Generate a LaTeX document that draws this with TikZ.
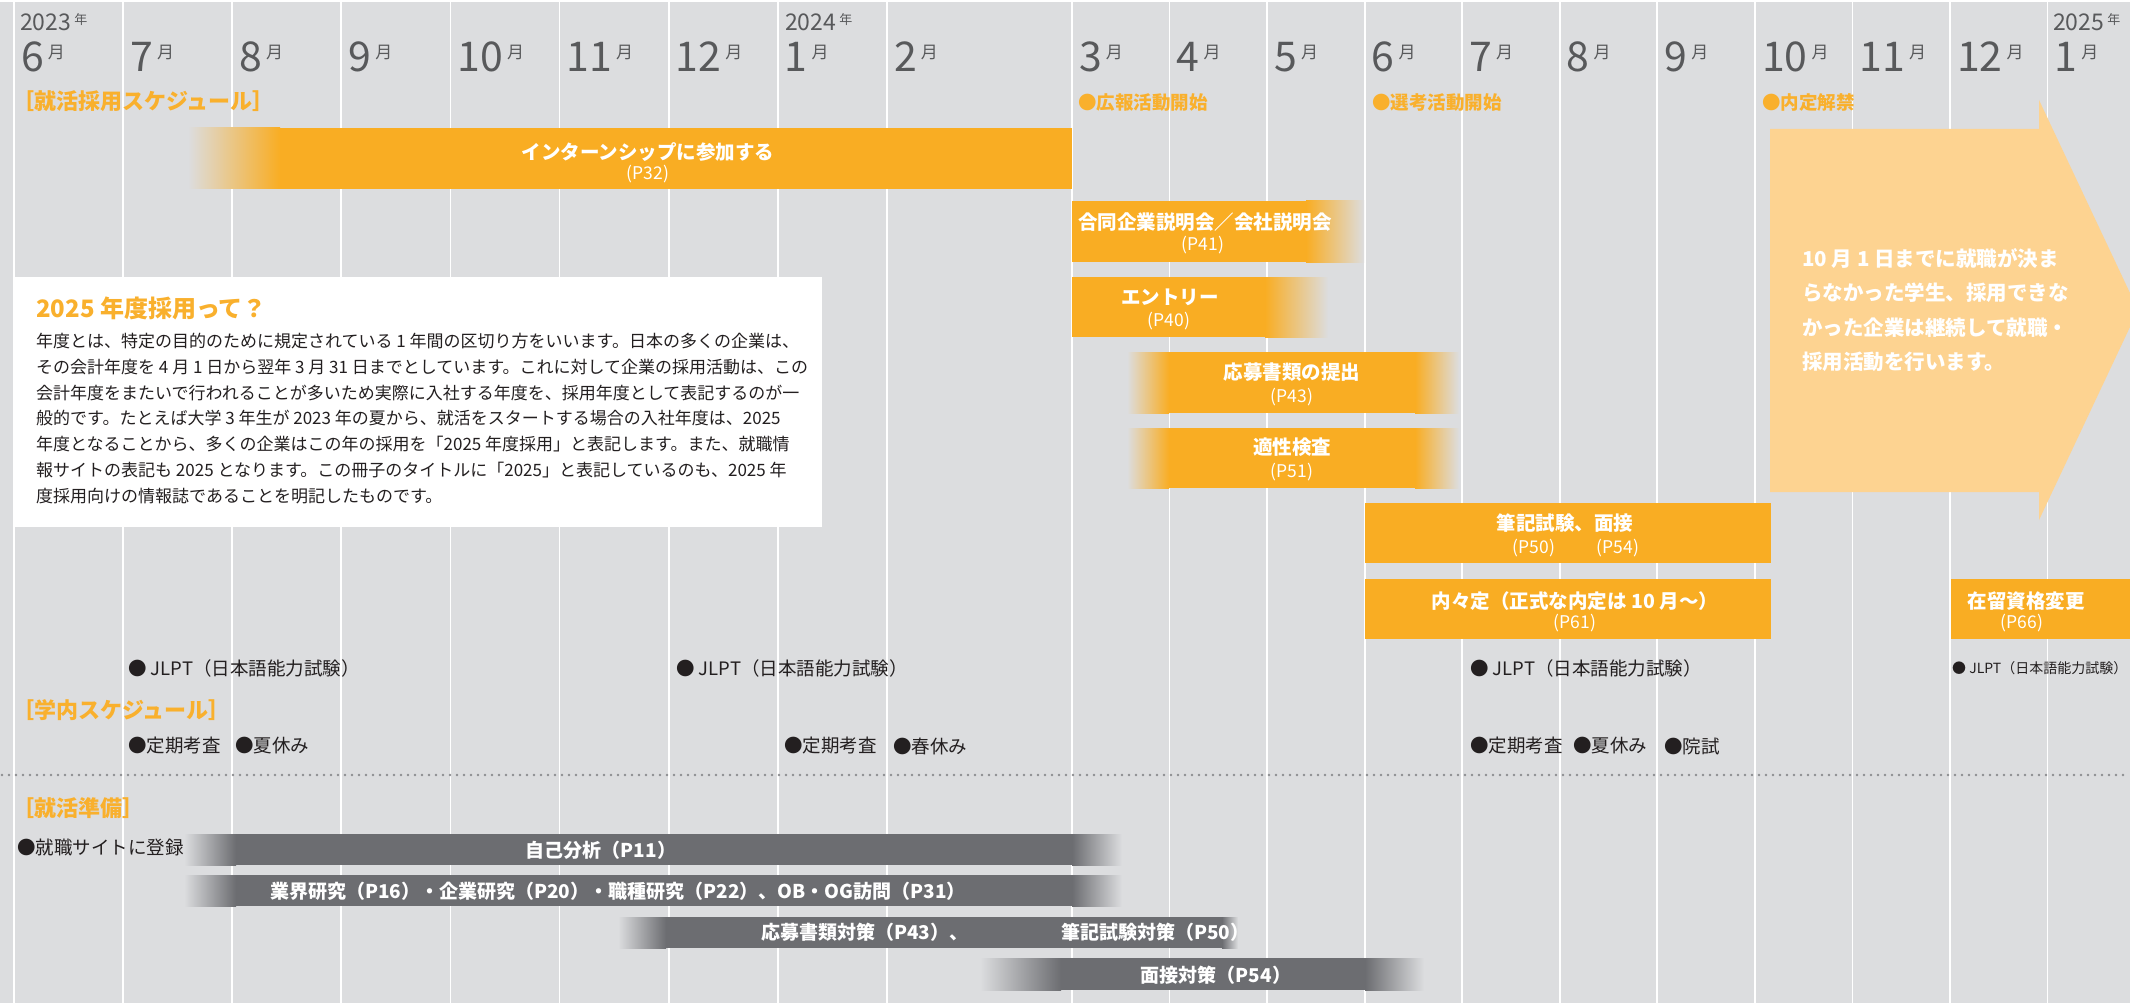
\documentclass[tikz,border=0pt]{standalone}
\usepackage{fontspec}
\setmainfont{Noto Sans CJK JP}

\definecolor{bggray}{RGB}{220,221,223}
\definecolor{barorange}{RGB}{249,173,35}
\definecolor{headorange}{RGB}{249,176,45}
\definecolor{paleorange}{RGB}{253,211,145}
\definecolor{bargray}{RGB}{108,109,113}
\definecolor{monthgray}{RGB}{88,89,91}
\definecolor{darktext}{RGB}{35,31,32}
\definecolor{dotgray}{RGB}{140,141,144}

\newcommand{\fsz}[1]{\fontsize{#1}{#1}\selectfont}
\newcommand{\tsuki}{\hspace{4pt}\raisebox{13pt}{\fsz{17}月}}
\newcommand{\nen}{\hspace{3pt}\raisebox{6pt}{\fsz{13}年}}

\begin{document}
\begin{tikzpicture}[x=1pt,y=-1pt]

\tikzset{vline/.style = {draw=white, line width=1.8pt}}
\tikzset{month/.style = {anchor=base west, inner sep=0, text=monthgray, font=\fsz{41}}}
\tikzset{year/.style = {anchor=base west, inner sep=0, text=monthgray, font=\fsz{23}}}
\tikzset{head/.style = {anchor=west, inner sep=0, text=headorange, font=\bfseries\fsz{22}}}
\tikzset{mile/.style = {anchor=west, inner sep=0, text=headorange, font=\bfseries\fsz{18.5}}}
\tikzset{bartitle/.style = {inner sep=0, text=white, font=\bfseries\fsz{19.5}}}
\tikzset{barpage/.style = {inner sep=0, text=white, font=\fsz{17.5}}}
\tikzset{graytitle/.style = {inner sep=0, text=white, font=\bfseries\fsz{19}}}
\tikzset{event/.style = {anchor=west, inner sep=0, text=darktext, font=\fsz{18.5}}}

\useasboundingbox (0,0) rectangle (2130,1003);
\clip (0,0) rectangle (2130,1003);

% background and month grid
\fill[white] (0,0) rectangle (2130,1003);
\fill[bggray] (0,2) rectangle (2130,1003);
\foreach \i in {0,...,8}
  \draw[vline] ({14+109.1*\i},2) -- ({14+109.1*\i},1003);
\foreach \i in {0,...,10}
  \draw[vline] ({1072+97.55*\i},2) -- ({1072+97.55*\i},1003);

% months
\node[year] (y23) at (20,31) {2023\nen};
\node[year] (y24) at (785,31) {2024\nen};
\node[year] (y25) at (2053,31) {2025\nen};
\foreach \m [count=\i from 0] in {6,7,8,9,10,11,12,1,2}
  \node[month] (ma\i) at ({21+109.1*\i},72) {\m\tsuki};
\foreach \m [count=\i from 0] in {3,4,5,6,7,8,9,10,11,12,1}
  \node[month] (mb\i) at ({1079+97.55*\i},72) {\m\tsuki};

% headers
\node[head] (hsaiyo) at (12,101) {［就活採用スケジュール］};
\node[head] (hgakunai) at (12,710) {［学内スケジュール］};
\node[head] (hjunbi) at (12,808) {［就活準備］};
\node[mile] (kouhou) at (1078,103) {●広報活動開始};
\node[mile] (senkou) at (1372,103) {●選考活動開始};
\node[mile] (naitei) at (1762,103) {●内定解禁};

% pale arrow
\fill[paleorange] (1770,129) -- (2039,129) -- (2039,100) -- (2138,310)
  -- (2039,520) -- (2039,492) -- (1770,492) -- cycle;
\node[anchor=north west, inner sep=0, align=left, text=white,
  font=\bfseries\fontsize{20.5}{34.5}\selectfont] (keizoku) at (1802,248)
  {10 月 1 日までに就職が決ま\\らなかった学生、採用できな\\かった企業は継続して就職・\\採用活動を行います。};

% orange bars
\shade[left color=bggray, right color=barorange] (188,128) rectangle (280,189);
\fill[barorange] (280,128) rectangle (1072,189);
\node[bartitle] (intern) at (648,152) {インターンシップに参加する};
\node[barpage] (internp) at (648,174) {(P32)};

\fill[barorange] (1072,201) rectangle (1306,262);
\shade[left color=barorange, right color=bggray] (1306,201) rectangle (1364,262);
\node[bartitle] (setsumei) at (1205,222) {合同企業説明会／会社説明会};
\node[barpage] (setsumeip) at (1203,245) {(P41)};

\fill[barorange] (1072,277) rectangle (1265,337);
\shade[left color=barorange, right color=bggray] (1265,277) rectangle (1328,337);
\node[bartitle] (entry) at (1170,297) {エントリー};
\node[barpage] (entryp) at (1169,321) {(P40)};

\shade[left color=bggray, right color=barorange] (1127,352) rectangle (1169,413);
\fill[barorange] (1169,352) rectangle (1415,413);
\shade[left color=barorange, right color=bggray] (1415,352) rectangle (1459,413);
\node[bartitle] (shorui) at (1292,372) {応募書類の提出};
\node[barpage] (shoruip) at (1292,397) {(P43)};

\shade[left color=bggray, right color=barorange] (1127,428) rectangle (1169,488);
\fill[barorange] (1169,428) rectangle (1415,488);
\shade[left color=barorange, right color=bggray] (1415,428) rectangle (1459,488);
\node[bartitle] (tekisei) at (1292,447) {適性検査};
\node[barpage] (tekiseip) at (1292,472) {(P51)};

\fill[barorange] (1365,503) rectangle (1771,563);
\node[bartitle] (hikki) at (1565,523) {筆記試験、面接};
\node[barpage] (hikkip) at (1534,548) {(P50)};
\node[barpage] (mensetsup) at (1618,548) {(P54)};

\fill[barorange] (1365,579) rectangle (1771,639);
\node[bartitle] (uchinai) at (1575,601) {内々定（正式な内定は 10 月〜）};
\node[barpage] (uchinaip) at (1575,623) {(P61)};

\fill[barorange] (1951,579) rectangle (2130,639);
\node[bartitle] (zairyu) at (2026,601) {在留資格変更};
\node[barpage] (zairyup) at (2022,623) {(P66)};

% info box
\fill[white] (13,277) rectangle (822,527);
\node[anchor=west, inner sep=0, text=headorange, font=\bfseries\fsz{24}] (qtitle) at (36,308) {2025 年度採用って？};
\node[anchor=north west, inner sep=0, align=left, text=darktext,
  font=\fontsize{17}{25.8}\selectfont] (qbody) at (36,333)
  {年度とは、特定の目的のために規定されている 1 年間の区切り方をいいます。日本の多くの企業は、\\
   その会計年度を 4 月 1 日から翌年 3 月 31 日までとしています。これに対して企業の採用活動は、この\\
   会計年度をまたいで行われることが多いため実際に入社する年度を、採用年度として表記するのが一\\
   般的です。たとえば大学 3 年生が 2023 年の夏から、就活をスタートする場合の入社年度は、2025\\
   年度となることから、多くの企業はこの年の採用を「2025 年度採用」と表記します。また、就職情\\
   報サイトの表記も 2025 となります。この冊子のタイトルに「2025」と表記しているのも、2025 年\\
   度採用向けの情報誌であることを明記したものです。};

% school schedule
\node[event] (jlpt1) at (128,668) {● JLPT（日本語能力試験）};
\node[event] (jlpt2) at (676,668) {● JLPT（日本語能力試験）};
\node[event] (jlpt3) at (1470,668) {● JLPT（日本語能力試験）};
\node[event, font=\fsz{14}] (jlpt4) at (1952,668) {● JLPT（日本語能力試験）};
\node[event] (kousa1) at (128,746) {●定期考査};
\node[event] (natsu1) at (235,746) {●夏休み};
\node[event] (kousa2) at (784,746) {●定期考査};
\node[event] (haru) at (893,746) {●春休み};
\node[event] (kousa3) at (1470,746) {●定期考査};
\node[event] (natsu2) at (1573,746) {●夏休み};
\node[event] (inshi) at (1664,746) {●院試};

\draw[dotgray, line width=2.6pt, line cap=round, dash pattern=on 0pt off 7pt] (2,775) -- (2130,775);

% preparation
\node[event] (touroku) at (17,847) {●就職サイトに登録};

\shade[left color=bggray, right color=bargray] (184,834) rectangle (236,865);
\fill[bargray] (236,834) rectangle (1072,865);
\shade[left color=bargray, right color=bggray] (1072,834) rectangle (1122,865);
\node[graytitle] (jiko) at (601,850) {自己分析（P11）};

\shade[left color=bggray, right color=bargray] (184,875) rectangle (236,906);
\fill[bargray] (236,875) rectangle (1072,906);
\shade[left color=bargray, right color=bggray] (1072,875) rectangle (1122,906);
\node[graytitle] (kenkyu) at (618,891) {業界研究（P16）・企業研究（P20）・職種研究（P22）、OB・OG訪問（P31）};

\shade[left color=bggray, right color=bargray] (618,917) rectangle (666,948);
\fill[bargray] (666,917) rectangle (1222,948);
\shade[left color=bargray, right color=bggray] (1222,917) rectangle (1238,948);
\node[graytitle, anchor=west] (shoruitai) at (761,932) {応募書類対策（P43）、};
\node[graytitle, anchor=west] (hikkitai) at (1061,932) {筆記試験対策（P50）};

\shade[left color=bggray, right color=bargray] (980,958) rectangle (1061,990);
\fill[bargray] (1061,958) rectangle (1365,990);
\shade[left color=bargray, right color=bggray] (1365,958) rectangle (1424,990);
\node[graytitle] (mensetsu) at (1216,975) {面接対策（P54）};

\end{tikzpicture}
\end{document}
